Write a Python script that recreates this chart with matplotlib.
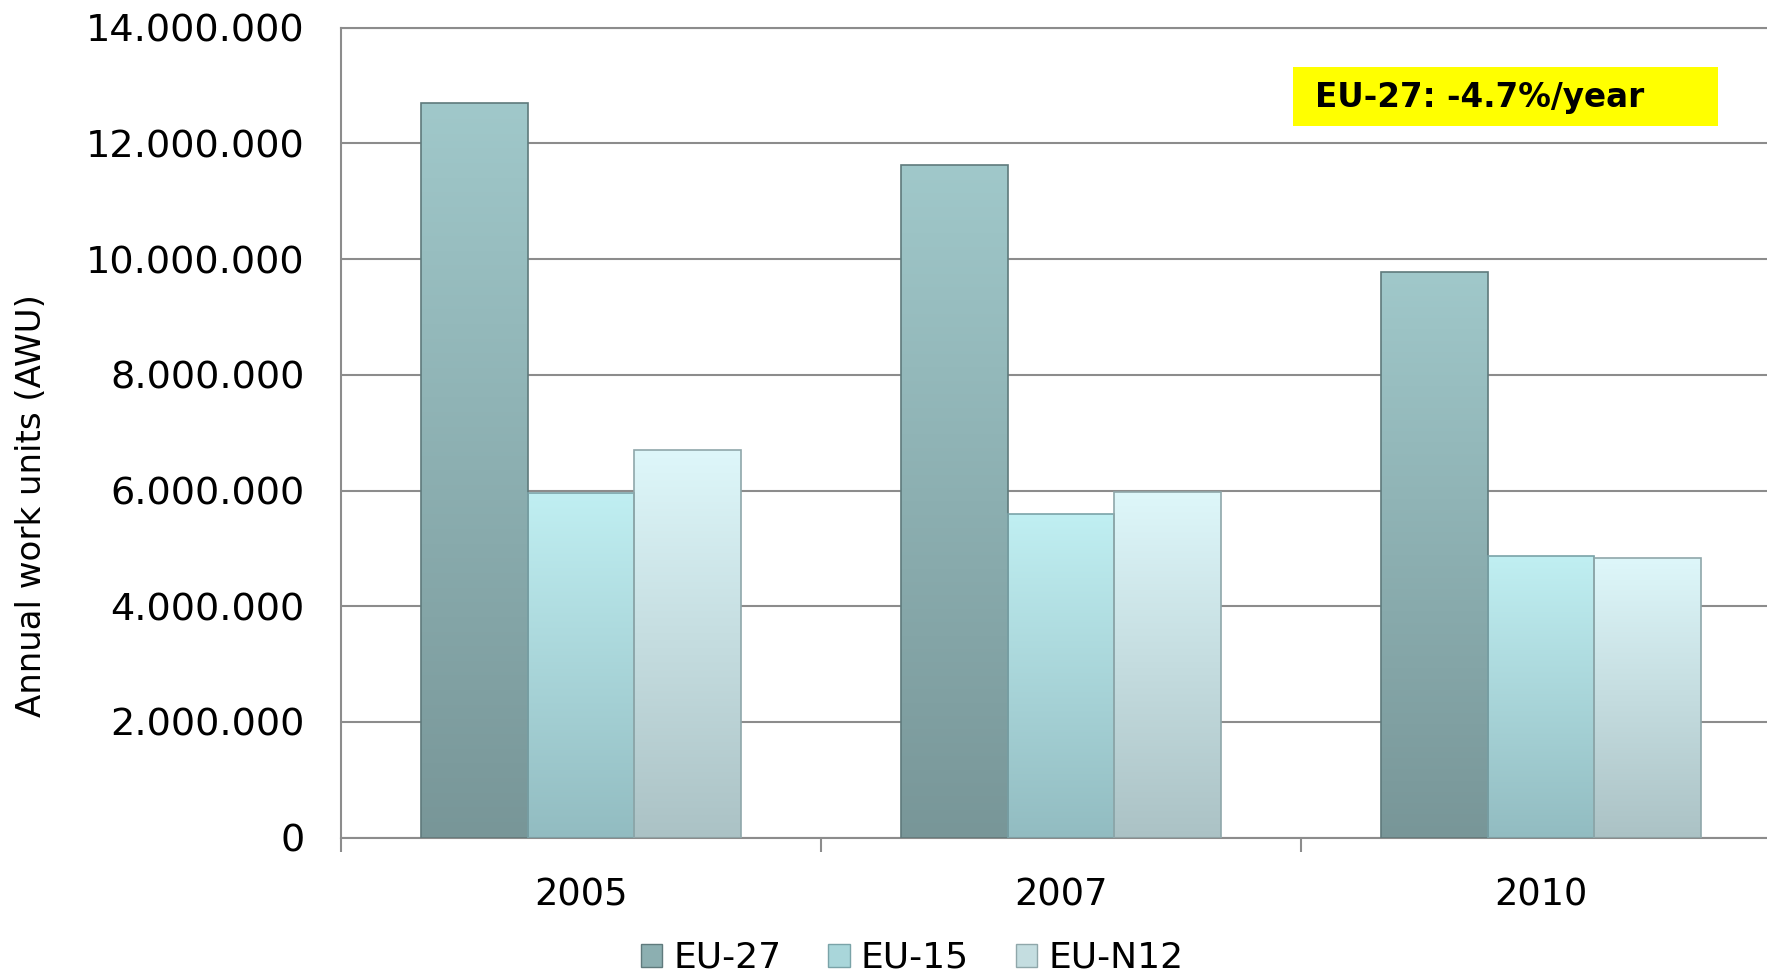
import numpy as np
import matplotlib.pyplot as plt
from matplotlib.colors import LinearSegmentedColormap, to_rgb
from matplotlib.patches import Patch, Rectangle
from matplotlib.ticker import FuncFormatter, FixedLocator

# data
years = ["2005", "2007", "2010"]
series = ["EU-27", "EU-15", "EU-N12"]
eu27 = [12700000, 11630000, 9770000]
eu15 = [5960000, 5590000, 4870000]
eun12 = [6700000, 5980000, 4830000]
values = [eu27, eu15, eun12]
y_ticks = [0, 2000000, 4000000, 6000000, 8000000, 10000000, 12000000, 14000000]
note = "EU-27: -4.7%/year"

# (top, bottom) gradient colours per series
grads = [("#a0c8ca", "#789698"), ("#c0eff2", "#92bcc1"), ("#def7fa", "#abc2c5")]
edges = ["#5f7a7c", "#7aa3a8", "#8fa7aa"]

fig = plt.figure(figsize=(17.67, 9.76), dpi=100)
ax = fig.add_axes([341 / 1767, 138.4 / 976, 1440 / 1767, 809.9 / 976])

x = np.arange(len(years))
width = 1 / 4.5
grad = np.linspace(1, 0, 256).reshape(-1, 1)

for i, (vals, (top, bot), ec) in enumerate(zip(values, grads, edges)):
    cmap = LinearSegmentedColormap.from_list(series[i], [bot, top])
    bars = ax.bar(x + (i - 1) * width, vals, width, facecolor="none",
                  edgecolor=ec, linewidth=1.2, zorder=3)
    for b in bars:
        bx, bw, bh = b.get_x(), b.get_width(), b.get_height()
        ax.imshow(grad, extent=[bx, bx + bw, 0, bh], cmap=cmap, vmin=0, vmax=1,
                  aspect="auto", zorder=2, interpolation="bicubic")

ax.set_xlim(-0.5, 2.5)
ax.set_ylim(0, 14000000)

ax.yaxis.set_major_locator(FixedLocator(y_ticks))
ax.yaxis.set_major_formatter(FuncFormatter(lambda v, p: f"{v:,.0f}".replace(",", ".")))
ax.tick_params(axis="y", length=0, pad=26, labelsize=27.5)
ax.yaxis.grid(True, color="#8c8c8c", linewidth=1.5)
ax.set_axisbelow(True)

ax.set_xticks(x)
ax.set_xticklabels(years)
ax.set_xticks([-0.5, 0.5, 1.5, 2.5], minor=True)
ax.tick_params(axis="x", which="major", length=0, pad=28, labelsize=26.5)
ax.tick_params(axis="x", which="minor", length=10, width=1.5, color="#8c8c8c", direction="out")

for s in ["left", "bottom", "top", "right"]:
    ax.spines[s].set_color("#8c8c8c")
    ax.spines[s].set_linewidth(1.5)

fig.text(31.5 / 1767, 1 - 506 / 976, "Annual work units (AWU)", rotation=90,
         ha="center", va="center", fontsize=24.5)

# yellow note box
fig.patches.append(Rectangle((1293 / 1767, 1 - 126 / 976), 425 / 1767, 59 / 976,
                             transform=fig.transFigure, facecolor="#ffff00",
                             edgecolor="none", zorder=5))
fig.text(1315 / 1767, 1 - 97 / 976, note, ha="left", va="center",
         fontsize=23.5, fontweight="bold", zorder=6)

handles = [Patch(facecolor=(np.array(to_rgb(t)) + np.array(to_rgb(b))) / 2,
                 edgecolor=ec, label=s)
           for s, (t, b), ec in zip(series, grads, edges)]
fig.legend(handles=handles, loc="center", bbox_to_anchor=(912 / 1767, 1 - 958 / 976),
           ncol=3, frameon=False, fontsize=26, handlelength=0.6, handleheight=0.6,
           handletextpad=0.3, columnspacing=1.3, borderpad=0)

fig.savefig("out.png", dpi=100)
